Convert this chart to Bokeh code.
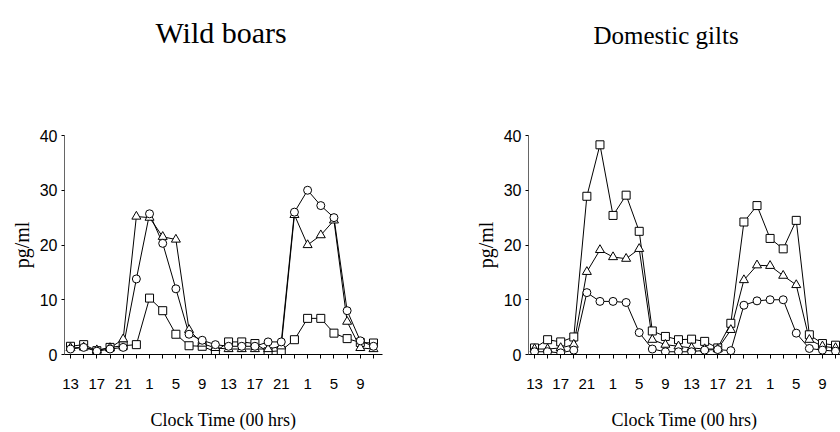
from bokeh.plotting import figure
from bokeh.layouts import row
from bokeh.models import FixedTicker, Range1d, Title
from bokeh.embed import file_html
from bokeh.resources import INLINE

# elapsed hours (clock time 13:00 day 1 ... 11:00 day 3), sampled every 2 h
elapsed_hours = [13, 15, 17, 19, 21, 23, 25, 27, 29, 31, 33, 35,
                 37, 39, 41, 43, 45, 47, 49, 51, 53, 55, 57, 59]
tick_labels = {13: "13", 17: "17", 21: "21", 25: "1", 29: "5", 33: "9",
               37: "13", 41: "17", 45: "21", 49: "1", 53: "5", 57: "9"}

# Wild boars (pg/ml)
wild_circle = [1.0, 1.3, 0.6, 1.0, 1.3, 13.8, 25.7, 20.3, 12.0, 3.7, 2.6, 1.8,
               1.5, 1.5, 1.5, 2.3, 2.3, 26.0, 30.0, 27.2, 25.0, 8.0, 2.5, 1.5]
wild_triangle = [1.2, 1.3, 0.8, 1.2, 2.8, 25.2, 25.0, 21.5, 21.0, 4.5, 2.0, 1.2,
                 1.0, 1.0, 1.0, 1.0, 1.5, 25.5, 20.0, 21.8, 24.5, 6.0, 1.2, 1.0]
wild_square = [1.5, 1.8, 0.7, 1.3, 1.6, 1.8, 10.3, 8.0, 3.7, 1.6, 1.5, 0.5,
               2.3, 2.3, 2.0, 0.5, 0.7, 2.7, 6.6, 6.6, 3.9, 2.9, 2.2, 2.1]

# Domestic gilts (pg/ml)
gilt_circle = [0.5, 0.5, 0.3, 0.8, 11.3, 9.7, 9.7, 9.5, 4.0, 1.0, 0.5, 0.5,
               0.5, 0.8, 0.9, 0.7, 9.0, 9.8, 10.0, 10.0, 3.9, 1.1, 0.8, 0.6]
gilt_triangle = [1.0, 1.0, 1.2, 1.8, 15.1, 19.1, 17.8, 17.5, 19.3, 2.7, 1.8, 1.5,
                 1.2, 1.0, 1.0, 4.5, 13.6, 16.3, 16.2, 14.4, 12.7, 2.7, 1.5, 1.2]
gilt_square = [1.2, 2.7, 2.3, 3.2, 28.9, 38.3, 25.4, 29.1, 22.5, 4.3, 3.3, 2.7,
               2.8, 2.4, 1.2, 5.7, 24.2, 27.2, 21.2, 19.3, 24.5, 3.6, 2.0, 1.7]

SERIF = "Liberation Serif"
SANS = "Liberation Sans"


def make_panel(title, title_size, title_offset, circ, tri, sq, x_start, x_end,
               b_left, b_right):
    p = figure(width=420, height=432, output_backend="svg", toolbar_location=None,
               title=None,
               x_range=Range1d(x_start, x_end), y_range=Range1d(0, 40),
               min_border_left=b_left, min_border_right=b_right,
               min_border_top=135, min_border_bottom=74)
    p.outline_line_color = None
    p.grid.grid_line_color = None
    p.background_fill_color = "white"
    p.border_fill_color = "white"

    # spacer between frame and heading (closest to the frame)
    p.add_layout(Title(text=" ", text_font_size="1px", standoff=82), "above")
    p.add_layout(Title(text=title, align="left", offset=title_offset,
                       vertical_align="bottom", standoff=4,
                       text_font=SERIF, text_font_size=title_size,
                       text_font_style="normal", text_color="black"), "above")

    # x axis
    p.xaxis.ticker = FixedTicker(ticks=elapsed_hours, minor_ticks=[])
    p.xaxis.major_label_overrides = {h: tick_labels.get(h, "") for h in elapsed_hours}
    p.xaxis.axis_label = "Clock Time (00 hrs)"
    p.xaxis.axis_label_text_font = SERIF
    p.xaxis.axis_label_text_font_size = "18px"
    p.xaxis.axis_label_text_font_style = "normal"
    p.xaxis.axis_label_text_color = "black"
    p.xaxis.axis_label_standoff = 18
    p.xaxis.major_label_text_font = SANS
    p.xaxis.major_label_text_font_size = "15px"
    p.xaxis.major_label_text_color = "black"
    p.xaxis.major_label_standoff = 20
    p.xaxis.major_tick_in = 0
    p.xaxis.major_tick_out = 4
    p.xaxis.axis_line_color = "black"
    p.xaxis.major_tick_line_color = "black"

    # y axis
    p.yaxis.ticker = FixedTicker(ticks=[0, 10, 20, 30, 40], minor_ticks=[])
    p.yaxis.axis_label = "pg/ml"
    p.yaxis.axis_label_text_font = SERIF
    p.yaxis.axis_label_text_font_size = "20px"
    p.yaxis.axis_label_text_font_style = "normal"
    p.yaxis.axis_label_text_color = "black"
    p.yaxis.axis_label_standoff = 4
    p.yaxis.major_label_text_font = SANS
    p.yaxis.major_label_text_font_size = "16px"
    p.yaxis.major_label_text_color = "black"
    p.yaxis.major_label_standoff = 4
    p.yaxis.major_tick_in = 0
    p.yaxis.major_tick_out = 3
    p.yaxis.axis_line_color = "#666666"
    p.yaxis.major_tick_line_color = "black"

    for vals in (sq, tri, circ):
        p.line(elapsed_hours, vals, line_color="black", line_width=1)
    for vals, marker, size in ((sq, "square", 8), (tri, "triangle", 9), (circ, "circle", 8)):
        p.scatter(elapsed_hours, vals, marker=marker, size=size,
                  fill_color="white", line_color="black", line_width=1)
    return p


left = make_panel("Wild boars", "30px", 91, wild_circle, wild_triangle, wild_square,
                  12.09, 60.37, 64, 38)
right = make_panel("Domestic gilts", "25px", 65, gilt_circle, gilt_triangle, gilt_square,
                   12.08, 59.76, 108, 0)

layout = row(left, right)
open("out.html", "w").write(file_html(layout, INLINE))
